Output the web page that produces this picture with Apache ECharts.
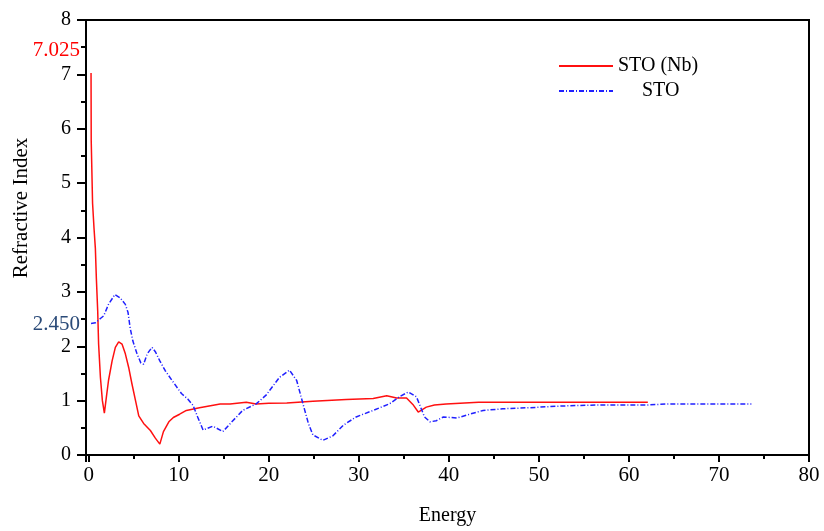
<!DOCTYPE html>
<html>
<head>
<meta charset="utf-8">
<script src="https://cdn.jsdelivr.net/npm/echarts@6/dist/echarts.min.js"></script>
<style>html,body{margin:0;padding:0;background:#fff;}#c{width:824px;height:531px;}</style>
</head>
<body>
<div id="c"></div>
<script>
// Energy / refractive index for STO (Nb)
const stoNbEnergy = [0.26,0.28,0.41,0.43,0.57,0.59,0.74,0.85,1.0,1.1,1.3,1.52,1.74,1.96,2.2,2.6,2.96,3.33,3.7,4.07,4.44,4.8,5.2,5.56,6.1,6.85,7.4,7.9,8.3,8.9,9.4,10.1,10.85,12.3,14.6,15.7,17.5,18.6,20,22,24.9,28.6,31.6,33.1,34.2,35.3,36.0,36.6,37.5,38.4,39.7,43.3,50,62.1];
const stoNbIndex  = [7.025,5.78,5.78,4.63,4.63,4.17,3.8,3.25,2.65,2.04,1.43,1.0,0.77,1.06,1.37,1.73,1.98,2.08,2.04,1.86,1.61,1.31,1.0,0.72,0.58,0.45,0.31,0.20,0.43,0.61,0.69,0.75,0.82,0.87,0.94,0.94,0.97,0.94,0.95,0.955,0.99,1.02,1.04,1.09,1.05,1.05,0.93,0.79,0.88,0.92,0.94,0.97,0.97,0.97];
// Energy / refractive index for STO
const stoEnergy = [0.26,0.74,1.3,1.67,2.2,2.9,3.5,4.07,4.37,4.6,4.9,5.37,5.8,6.1,6.5,7.03,7.4,7.9,8.5,9.26,10.3,11.0,11.6,12.1,12.7,13.8,14.9,15.9,17.1,18.6,19.7,21.2,22.3,23.1,23.8,24.4,24.9,26.0,27.1,28.3,29.7,31.6,33.4,34.6,35.5,36.4,37.3,37.9,38.6,39.4,40.9,42.3,43.8,46,49,52.3,56.4,62,64.6,73.6];
const stoIndex  = [2.42,2.43,2.51,2.56,2.77,2.95,2.89,2.77,2.62,2.34,2.10,1.86,1.69,1.67,1.86,1.98,1.9,1.73,1.55,1.37,1.13,1.03,0.91,0.70,0.46,0.53,0.43,0.61,0.82,0.94,1.10,1.43,1.56,1.37,0.94,0.58,0.37,0.27,0.35,0.55,0.70,0.82,0.94,1.08,1.16,1.07,0.70,0.61,0.63,0.70,0.68,0.75,0.82,0.85,0.87,0.90,0.92,0.92,0.94,0.94];
const seriesNames = ['STO (Nb)', 'STO'];
// annotations shown beside the y axis: [axis value, text]
const annotations = [[7.5, '7.025'], [2.5, '2.450']];

const FONT = 'Liberation Serif';
const zip = (a, b) => a.map((x, i) => [x, b[i]]);

const chart = echarts.init(document.getElementById('c'), null, {renderer: 'canvas'});
chart.setOption({
  animation: false,
  backgroundColor: '#fff',
  grid: {left: 86, right: 15, top: 20, bottom: 73, show: true, borderColor: '#000', borderWidth: 2, backgroundColor: 'transparent'},
  legend: {
    orient: 'vertical', left: 553, top: 51, itemWidth: 54, itemHeight: 14, itemGap: 5,
    itemStyle: {opacity: 0},
    data: [
      {name: seriesNames[0]},
      {name: seriesNames[1], textStyle: {padding: [0, 0, 0, 24]}}
    ],
    textStyle: {fontFamily: FONT, fontSize: 20, color: '#000'}
  },
  xAxis: {
    type: 'value', min: -0.3, max: 80, splitNumber: 8,
    name: 'Energy', nameLocation: 'middle', nameGap: 51,
    nameTextStyle: {fontFamily: FONT, fontSize: 20, color: '#000'},
    axisLine: {onZero: false, lineStyle: {color: '#000', width: 2}},
    axisTick: {length: 7, lineStyle: {width: 2, color: '#000'}},
    minorTick: {show: true, splitNumber: 2, length: 4, lineStyle: {width: 2, color: '#000'}},
    axisLabel: {showMinLabel: false, fontFamily: FONT, fontSize: 21, color: '#000', margin: 10},
    splitLine: {show: false}
  },
  yAxis: [{
    type: 'value', min: 0, max: 8, interval: 1,
    axisLine: {show: true, onZero: false, lineStyle: {color: '#000', width: 2}},
    axisTick: {show: true, length: 9, lineStyle: {width: 2, color: '#000'}},
    minorTick: {show: true, splitNumber: 2, length: 5, lineStyle: {width: 2, color: '#000'}},
    axisLabel: {fontFamily: FONT, fontSize: 20, color: '#000', margin: 15},
    splitLine: {show: false}
  }, {
    type: 'value', min: 0, max: 8, interval: 0.5, position: 'left',
    axisLine: {show: false, onZero: false}, axisTick: {show: false}, splitLine: {show: false},
    axisLabel: {
      margin: 6,
      formatter: function (v) {
        for (let i = 0; i < annotations.length; i++) {
          if (Math.abs(annotations[i][0] - v) < 1e-6) return '{a' + i + '|' + annotations[i][1] + '}';
        }
        return '';
      },
      rich: {
        a0: {fontFamily: FONT, fontSize: 21, color: '#ff0000', padding: [6, 0, 0, 0]},
        a1: {fontFamily: FONT, fontSize: 21, color: '#2a4a78', padding: [10, 0, 0, 0]}
      }
    }
  }],
  series: [{
    name: seriesNames[0], type: 'line', data: zip(stoNbEnergy, stoNbIndex),
    symbol: 'none', color: '#ff1010',
    lineStyle: {color: '#ff1010', width: 1.5}
  }, {
    name: seriesNames[1], type: 'line', data: zip(stoEnergy, stoIndex),
    symbol: 'none', color: '#2020ff',
    lineStyle: {color: '#2020ff', width: 1.5, type: [5, 2, 1, 2]}
  }],
  graphic: [{
    type: 'text', x: 21, y: 208, rotation: Math.PI / 2,
    style: {text: 'Refractive Index', fontFamily: FONT, fontSize: 21, fill: '#000', align: 'center', verticalAlign: 'middle'}
  }]
});
</script>
</body>
</html>
